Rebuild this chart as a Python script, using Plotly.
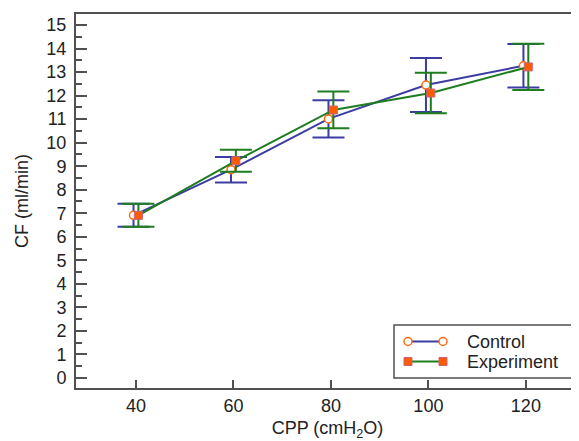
import plotly.graph_objects as go

# Data
cpp = [40, 60, 80, 100, 120]
control_mean = [6.91, 8.85, 11.01, 12.45, 13.27]
control_err = [0.49, 0.54, 0.79, 1.15, 0.92]
experiment_mean = [6.91, 9.23, 11.39, 12.11, 13.22]
experiment_err = [0.49, 0.47, 0.78, 0.86, 0.98]
offset = 0.5  # horizontal jitter so error bars don't overlap

yticks = list(range(0, 16))
xticks = [40, 60, 80, 100, 120]

# page body has an 8px default margin, so the figure is sized/placed to compensate
PAD = 8
W, H = 579 - PAD, 441 - PAD
ML, MR, MT, MB = 76 - PAD, 0, 14 - PAD, 53
XR = [27.7, 130.9]
YR = [-0.43, 15.47]

blue = "#3c3ca2"
green = "#1e7d1e"
orange = "#ff6a10"
sq_orange = "#ff5a00"
frame = "#505050"
FONT = "Liberation Sans, Arial, sans-serif"
FS = 18

fig = go.Figure()
fig.add_trace(go.Scatter(
    x=[v - offset for v in cpp], y=control_mean, name="Control",
    mode="lines+markers",
    line=dict(color=blue, width=2),
    marker=dict(symbol="circle", size=8, color="white", line=dict(color=orange, width=1.5)),
    error_y=dict(type="data", array=control_err, visible=True, color=blue, thickness=2, width=16),
    showlegend=False,
))
fig.add_trace(go.Scatter(
    x=[v + offset for v in cpp], y=experiment_mean, name="Experiment",
    mode="lines+markers",
    line=dict(color=green, width=2),
    marker=dict(symbol="square", size=8, color=sq_orange, line=dict(color="#c86478", width=1)),
    error_y=dict(type="data", array=experiment_err, visible=True, color=green, thickness=2, width=16),
    showlegend=False,
))

pw = W - ML - MR
ph = H - MT - MB
def px(x):  # window pixel -> paper
    return (x - PAD - ML) / pw
def py(y):
    return (H - MB - (y - PAD)) / ph

shapes = []
annotations = []
# legend box
shapes.append(dict(type="rect", xref="paper", yref="paper",
                   x0=px(394), x1=px(576), y0=py(378), y1=py(325),
                   line=dict(color=frame, width=1.5), fillcolor="white", layer="above"))
legend_items = [("Control", 341.5, blue, "circle"), ("Experiment", 361.5, green, "square")]
for label, yy, col, sym in legend_items:
    shapes.append(dict(type="line", xref="paper", yref="paper",
                       x0=px(408), x1=px(443), y0=py(yy), y1=py(yy),
                       line=dict(color=col, width=2), layer="above"))
    for xx in (408, 443):
        if sym == "circle":
            shapes.append(dict(type="circle", xref="paper", yref="paper",
                               xsizemode="pixel", ysizemode="pixel",
                               xanchor=px(xx), yanchor=py(yy),
                               x0=-4, x1=4, y0=-4, y1=4,
                               line=dict(color=orange, width=1.5), fillcolor="white", layer="above"))
        else:
            shapes.append(dict(type="rect", xref="paper", yref="paper",
                               xsizemode="pixel", ysizemode="pixel",
                               xanchor=px(xx), yanchor=py(yy),
                               x0=-4, x1=4, y0=-4, y1=4,
                               line=dict(color="#c86478", width=1), fillcolor=sq_orange, layer="above"))
    annotations.append(dict(xref="paper", yref="paper", x=px(465), y=py(yy),
                            xanchor="left", yanchor="middle", showarrow=False,
                            text=label, font=dict(family=FONT, size=FS, color="#222")))

fig.update_layout(
    width=W, height=H,
    margin=dict(l=ML, r=MR, t=MT, b=MB),
    paper_bgcolor="white", plot_bgcolor="white",
    font=dict(family=FONT, size=FS, color="#222"),
    shapes=shapes, annotations=annotations,
    showlegend=False,
)
fig.update_xaxes(
    range=XR, tickvals=xticks, ticks="inside", ticklen=8, tickwidth=1.5, tickcolor=frame,
    showline=True, linecolor=frame, linewidth=2, mirror=True, showgrid=False, zeroline=False,
    title=dict(text="CPP (cmH<sub>2</sub>O)", standoff=8, font=dict(size=FS)),
    tickfont=dict(size=FS),
)
fig.update_yaxes(
    range=YR, tickvals=yticks, ticks="inside", ticklen=11, tickwidth=1.5, tickcolor=frame,
    minor=dict(dtick=0.5, ticks="inside", ticklen=6, tickwidth=1.5, tickcolor=frame, showgrid=False),
    showline=True, linecolor=frame, linewidth=2, mirror=False, showgrid=False, zeroline=False,
    title=dict(text="CF (ml/min)", standoff=13, font=dict(size=FS)),
    tickfont=dict(size=FS), ticklabelstandoff=4,
)

fig.write_html("out.html")
